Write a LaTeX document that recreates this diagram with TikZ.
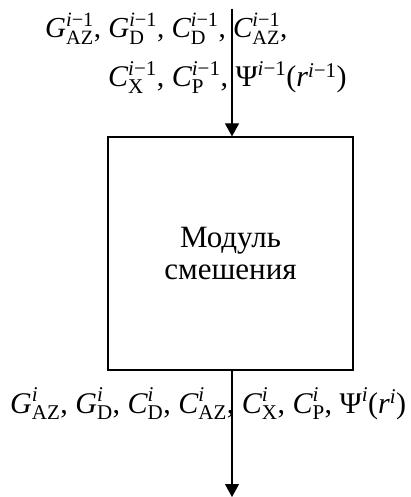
\documentclass[tikz,border=0pt]{standalone}
\usepackage{amsmath}
\usepackage{fontspec}
\setmainfont{Liberation Serif}
\usetikzlibrary{arrows.meta}
\newcommand{\mn}{\text{\char"2212}}
\newcommand{\sI}{\text{\itshape i}}
\newcommand{\sIm}{\sI\mn\text{1}}
\newcommand{\Vr}[3]{\text{\itshape #1}^{#2}_{\text{#3}}}
\tikzset{
  lbl/.style={font=\fontsize{29}{34}\selectfont, inner sep=0pt, anchor=base west},
  lblw/.style={lbl, font=\fontsize{30}{34}\selectfont},
  modbox/.style={draw, line width=1.2pt, minimum width=245pt, minimum height=233pt, inner sep=0pt,
    font=\fontsize{31}{32}\selectfont, align=center},
  flow/.style={line width=1.2pt, -{Triangle[length=13pt,width=14pt]}}
}
\begin{document}
\begin{tikzpicture}[x=1pt,y=-1pt]
\useasboundingbox (0,0) rectangle (410,497);
\node[modbox] (box) at (230.5,253.5) {Модуль\\смешения};
\coordinate (in) at (232,9);
\coordinate (out) at (232,497);
\draw[flow] (in) -- (in |- box.north);
\draw[flow] (in |- box.south) -- (out);
\node[lbl] (l1) at (45,38) {$\Vr{G}{\sIm}{AZ}\text{, }\Vr{G}{\sIm}{D}\text{, }\Vr{C}{\sIm}{D}\text{, }\Vr{C}{\sIm}{AZ}\text{,}$};
\node[lblw] (l2) at (108,87) {$\Vr{C}{\sIm}{X}\text{, }\Vr{C}{\sIm}{P}\text{, }\text{Ψ}^{\sIm}\text{(}\text{\itshape r}^{\sIm}\text{)}$};
\node[lblw] (l3) at (10,413) {$\Vr{G}{\sI}{AZ}\text{, }\Vr{G}{\sI}{D}\text{, }\Vr{C}{\sI}{D}\text{, }\Vr{C}{\sI}{AZ}\text{, }\Vr{C}{\sI}{X}\text{, }\Vr{C}{\sI}{P}\text{, }\text{Ψ}^{\sI}\text{(}\text{\itshape r}^{\sI}\text{)}$};
\end{tikzpicture}
\end{document}
